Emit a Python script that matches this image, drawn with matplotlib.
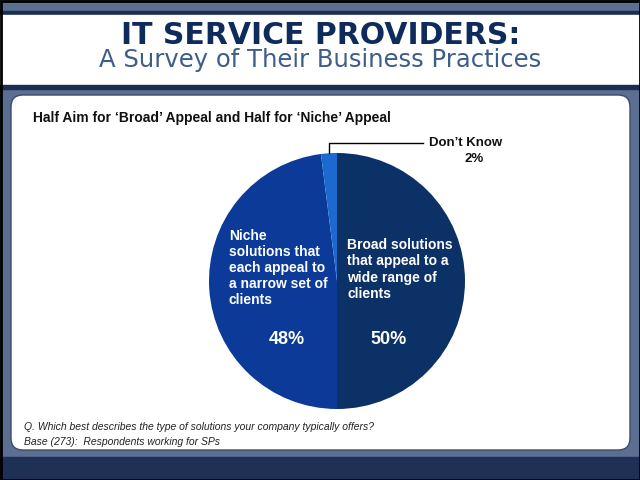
import numpy as np
import matplotlib.pyplot as plt
from matplotlib.patches import Rectangle, FancyBboxPatch

plt.rcParams['font.family'] = ['Liberation Sans', 'DejaVu Sans']

# data
title = "IT SERVICE PROVIDERS:"
subtitle = "A Survey of Their Business Practices"
heading = "Half Aim for \u2018Broad\u2019 Appeal and Half for \u2018Niche\u2019 Appeal"
segments = ["Broad", "Niche", "Don\u2019t Know"]
shares = [50, 48, 2]
seg_text = ["Broad solutions\nthat appeal to a\nwide range of\nclients",
            "Niche\nsolutions that\neach appeal to\na narrow set of\nclients"]
notes = ["Q. Which best describes the type of solutions your company typically offers?",
         "Base (273):  Respondents working for SPs"]
colors = ["#0c3167", "#0b3a99", "#1c6ad0"]

fig = plt.figure(figsize=(6.4, 4.8), dpi=100)

# background frame in pixel coordinates
bg = fig.add_axes([0, 0, 1, 1])
bg.set_xlim(0, 640)
bg.set_ylim(480, 0)
bg.axis('off')
bg.add_patch(Rectangle((0, 0), 640, 480, color='#5b6f92'))
bg.add_patch(Rectangle((0, 11), 640, 4, color='#1b2d52'))
bg.add_patch(Rectangle((0, 15), 640, 70, color='white'))
bg.add_patch(Rectangle((0, 85), 640, 4, color='#1b2d52'))
bg.add_patch(FancyBboxPatch((11, 95), 619, 355, boxstyle='round,pad=0,rounding_size=12',
                            facecolor='white', edgecolor='#3d4c66', linewidth=1.0))
bg.add_patch(Rectangle((0, 457), 640, 23, color='#1f3057'))
bg.add_patch(Rectangle((0.5, 0.5), 639, 479, fill=False, edgecolor='black', linewidth=2))

bg.text(321, 43.5, title, ha='center', va='baseline', fontsize=21.5, fontweight='bold',
        color='#0e2b5c', family='DejaVu Sans')
bg.text(320, 67.5, subtitle, ha='center', va='baseline', fontsize=17.5, color='#3d5d8a',
        family='DejaVu Sans')
bg.text(33, 118, heading, ha='left', va='center', fontsize=10, fontweight='bold', color='#111111')
bg.text(24, 427, notes[0], ha='left', va='center', fontsize=7.5, style='italic', color='#222222')
bg.text(24, 442, notes[1], ha='left', va='center', fontsize=7.5, style='italic', color='#222222')

# pie: centre (337, 281), radius 128 px
ax = fig.add_axes([(337 - 128) / 640, (480 - 281 - 128) / 480, 256 / 640, 256 / 480])
ax.pie(shares, colors=colors, startangle=90, counterclock=False, radius=1,
       wedgeprops=dict(linewidth=0))
ax.set_xlim(-1, 1)
ax.set_ylim(-1, 1)
ax.set_aspect('equal')
ax.axis('off')

ax.text(0.08, 0.335, seg_text[0], ha='left', va='top', fontsize=10, fontweight='bold',
        color='white', linespacing=1.2)
ax.text(-0.845, 0.41, seg_text[1], ha='left', va='top', fontsize=10, fontweight='bold',
        color='white', linespacing=1.2)
ax.text(0.40, -0.46, f"{shares[0]}%", ha='center', va='center', fontsize=13,
        fontweight='bold', color='white')
ax.text(-0.39, -0.46, f"{shares[1]}%", ha='center', va='center', fontsize=13,
        fontweight='bold', color='white')

# leader line for the small slice
mid = np.deg2rad(90 + shares[2] / 100 * 360 / 2)
x0 = np.cos(mid)
ax.plot([x0, x0, 0.67], [1.0, 1.075, 1.075], color='black', linewidth=1, clip_on=False)
ax.text(1.005, 1.075, segments[2], ha='center', va='center', fontsize=9.5,
        fontweight='bold', color='#111111')
ax.text(1.07, 0.95, f"{shares[2]}%", ha='center', va='center', fontsize=9.5,
        fontweight='bold', color='#111111')

fig.savefig('out.png', dpi=100)
